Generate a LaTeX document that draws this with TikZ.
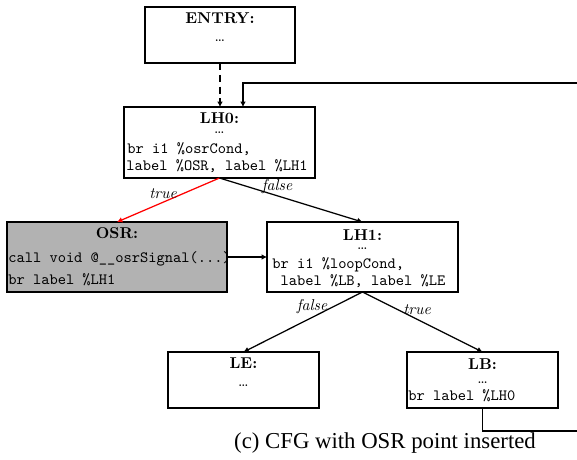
\documentclass[tikz,border=0pt]{standalone}
\usepackage{fontspec}
\newfontfamily\capfont{Liberation Serif}
\usetikzlibrary{arrows.meta}
\newcommand{\pxu}{0.637pt}
\begin{document}
\begin{tikzpicture}[x=0.637pt,y=-0.637pt,
  box/.style={draw, line width=0.8pt, inner sep=0pt, outer sep=0pt, rectangle},
  hdr/.style={anchor=base, inner sep=0pt, font=\bfseries},
  dts/.style={anchor=base, inner sep=0pt},
  code/.style={anchor=base west, inner sep=0pt, font=\ttfamily},
  arr/.style={line width=0.8pt, -{Latex[length=3.4pt,width=3.6pt]}},
  elab/.style={inner sep=0pt, font=\itshape}]
\useasboundingbox (0,0) rectangle (577,459);
% boxes
\node[box, minimum width=150*\pxu, minimum height=56*\pxu] (entry) at (220,35) {};
\node[box, minimum width=191*\pxu, minimum height=71*\pxu] (lh0) at (219.5,142.5) {};
\node[box, fill=black!30, minimum width=220*\pxu, minimum height=70*\pxu] (osr) at (117,257) {};
\node[box, minimum width=191*\pxu, minimum height=70*\pxu] (lh1) at (362.5,257) {};
\node[box, minimum width=151*\pxu, minimum height=56*\pxu] (le) at (243.5,380) {};
\node[box, minimum width=151*\pxu, minimum height=56*\pxu] (lb) at (482.5,380) {};
% texts
\node[hdr] (entryh) at (220,23.3) {ENTRY:};
\node[dts] (entryd) at (220,41.7) {\dots};
\node[hdr] (lh0h) at (219.5,123.5) {LH0:};
\node[dts] (lh0d) at (219.5,133.3) {\dots};
\node[code] (lh0a) at (127,153) {br i1 \%osrCond,};
\node[code] (lh0b) at (126,170) {label \%OSR, label \%LH1};
\node[hdr] (osrh) at (117,238) {OSR:};
\node[code] (osra) at (8,262) {call void @\_\_osrSignal(...)};
\node[code] (osrb) at (8,284) {br label \%LH1};
\node[hdr] (lh1h) at (362.5,240) {LH1:};
\node[dts] (lh1d) at (362.5,249) {\dots};
\node[code] (lh1a) at (272,268) {br i1 \%loopCond,};
\node[code] (lh1b) at (272,285) {\ label \%LB, label \%LE};
\node[hdr] (leh) at (243.5,368) {LE:};
\node[dts] (led) at (243.5,386) {\dots};
\node[hdr] (lbh) at (482.5,369) {LB:};
\node[dts] (lbd) at (482.5,383) {\dots};
\node[code] (lba) at (408,400) {br label \%LH0};
% caption
\node[anchor=base, inner sep=0pt, font=\capfont\fontsize{14.5}{17}\selectfont] (cap) at (385,448) {(c) CFG with OSR point inserted};
% connectors
\coordinate (lhin) at (577,83);
\coordinate (lbout) at (577,431);
\draw[arr, dash pattern=on 4.5pt off 3pt] (entry.south) -- (entry.south |- lh0.north);
\draw[arr] (lhin) -| ([xshift=23.5*\pxu]lh0.north);
\draw[line width=0.8pt] (lb.south) |- (lbout);
\draw[arr, red] (lh0.south) -- (osr.north);
\draw[arr] (lh0.south) -- (lh1.north);
\draw[arr] (osr.east) -- (lh1.west);
\draw[arr] (lh1.south) -- (le.north);
\draw[arr] (lh1.south) -- (lb.north);
% edge labels
\node[elab] (t1) at (163,194) {true};
\node[elab] (f1) at (277,187) {false};
\node[elab] (f2) at (312,307) {false};
\node[elab] (t2) at (417,310) {true};
\end{tikzpicture}
\end{document}
